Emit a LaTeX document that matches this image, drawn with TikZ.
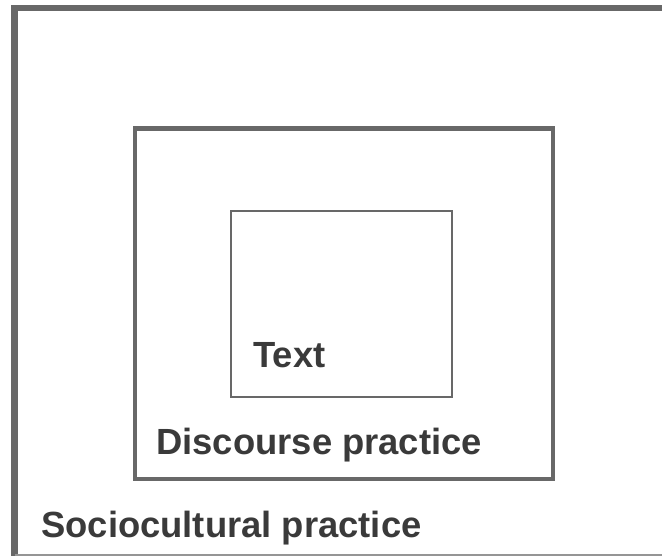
\documentclass[tikz,border=0pt]{standalone}
\usepackage{fontspec}
\setmainfont{Liberation Sans}
\definecolor{boxgrey}{HTML}{686868}
\definecolor{txtgrey}{HTML}{3A3A3A}
\begin{document}
\begin{tikzpicture}[x=0.75pt,y=-0.75pt,
  lbl/.style={anchor=base west,inner sep=0pt,text=txtgrey,font=\bfseries\fontsize{27.3}{31}\selectfont}]
\useasboundingbox (0,0) rectangle (662,556);
% outer box (sociocultural)
\draw[boxgrey,line width=5.2pt] (14.7,560) -- (14.7,8) -- (670,8);
\draw[boxgrey!70,line width=1pt] (14.7,555) -- (662,555);
% middle box (discourse)
\draw[boxgrey,line width=3.4pt] (135,128.5) rectangle (553,479);
% inner box (text)
\draw[boxgrey,line width=1.5pt] (231,211) rectangle (452,397);
\node[lbl] (t) at (253,368) {Text};
\node[lbl] (d) at (156,455) {Discourse practice};
\node[lbl] (s) at (41,538) {Sociocultural practice};
\end{tikzpicture}
\end{document}
